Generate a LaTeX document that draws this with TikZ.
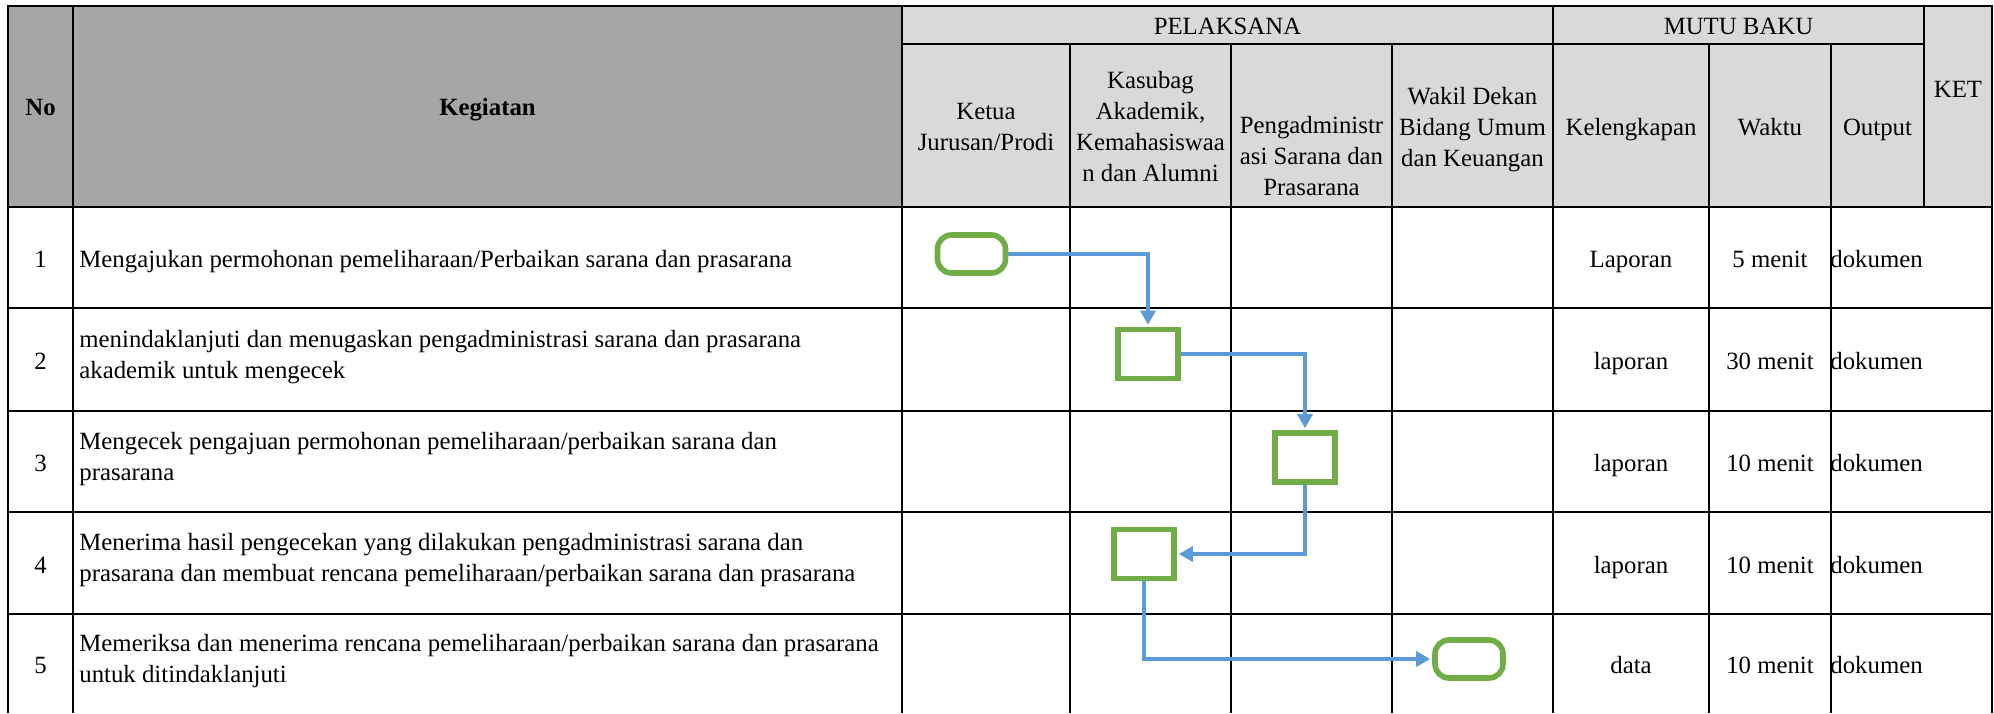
\documentclass[tikz,border=0pt]{standalone}
\usepackage{fontspec}
\setmainfont{Liberation Serif}
\usepackage{tikz}
\usetikzlibrary{arrows.meta}
\definecolor{hdgray}{HTML}{A6A6A6}
\definecolor{hdlight}{HTML}{D9D9D9}
\definecolor{flowgreen}{HTML}{70AD47}
\definecolor{flowblue}{HTML}{5B9BD5}

\begin{document}
\begin{tikzpicture}[
    x=0.5pt, y=-0.5pt,
    font=\fontsize{12.4pt}{15.5pt}\selectfont,
    >={Triangle[length=7pt,width=7.5pt]},
    grid/.style={line width=1.15pt},
    val/.style={anchor=base, inner sep=0pt},
    head/.style={align=center, inner sep=0pt},
    act/.style={anchor=west, align=left, inner sep=0pt},
    proc/.style={draw=flowgreen, fill=white, line width=2.8pt, minimum width=30pt, minimum height=24.5pt, inner sep=0pt},
    term/.style={proc, rounded corners=7pt, minimum width=34pt, minimum height=19pt},
    flow/.style={->, draw=flowblue, line width=1.6pt, shorten >=1pt},
]
    \useasboundingbox (0,0) rectangle (1994,713);
    % header background
    \fill[hdgray] (8,6) rectangle (902,207);
    \fill[hdlight] (902,6) rectangle (1992,207);

    % header
    \node[val] (hno) at (40.5,115) {\bfseries No};
    \node[val] (hkeg) at (487.5,115) {\bfseries Kegiatan};
    \node[val] (hpel) at (1227.5,34) {PELAKSANA};
    \node[val] (hmutu) at (1738.5,34) {MUTU BAKU};
    \node[val] (hket) at (1958,97) {KET};
    \node[head] (hketua) at (986,126.5) {Ketua\\Jurusan/Prodi};
    \node[head] (hkasubag) at (1150.5,126.3) {Kasubag\\Akademik,\\Kemahasiswaa\\n dan Alumni};
    \node[head] (hadm) at (1311.5,156.3) {Pengadministr\\asi Sarana dan\\Prasarana};
    \node[head] (hwakil) at (1472.5,129.7) {Wakil Dekan\\Bidang Umum\\dan Keuangan};
    \node[val] (hkel) at (1631,135.5) {Kelengkapan};
    \node[val] (hwaktu) at (1770,135.5) {Waktu};
    \node[val] (hout) at (1877.5,135.5) {Output};

    % rows
    \node[val] (no1) at (40.5,267.5) {1};
    \node[val] (no2) at (40.5,369.5) {2};
    \node[val] (no3) at (40.5,471.5) {3};
    \node[val] (no4) at (40.5,573) {4};
    \node[val] (no5) at (40.5,673.5) {5};
    \node[act] (keg1) at (79,261.7) {Mengajukan permohonan pemeliharaan/Perbaikan sarana dan prasarana};
    \node[act] (keg2) at (79,356.7) {menindaklanjuti dan menugaskan pengadministrasi sarana dan prasarana\\akademik untuk mengecek};
    \node[act] (keg3) at (79,458.7) {Mengecek pengajuan permohonan pemeliharaan/perbaikan sarana dan\\prasarana};
    \node[act] (keg4) at (79,560.2) {Menerima hasil pengecekan yang dilakukan pengadministrasi sarana dan\\prasarana dan membuat rencana pemeliharaan/perbaikan sarana dan prasarana};
    \node[act] (keg5) at (79,660.7) {Memeriksa dan menerima rencana pemeliharaan/perbaikan sarana dan prasarana\\untuk ditindaklanjuti};

    \node[val] (kel1) at (1631,267.5) {Laporan};
    \node[val] (kel2) at (1631,369.5) {laporan};
    \node[val] (kel3) at (1631,471.5) {laporan};
    \node[val] (kel4) at (1631,573) {laporan};
    \node[val] (kel5) at (1631,673.5) {data};
    \node[val] (wkt1) at (1770,267.5) {5 menit};
    \node[val] (wkt2) at (1770,369.5) {30 menit};
    \node[val] (wkt3) at (1770,471.5) {10 menit};
    \node[val] (wkt4) at (1770,573) {10 menit};
    \node[val] (wkt5) at (1770,673.5) {10 menit};
    \foreach \y [count=\i] in {267.5,369.5,471.5,573,673.5}
        \node[val, anchor=base west] (out\i) at (1830,\y) {dokumen};

    % grid
    \draw[grid] (8,713) -- (8,6) -- (1992,6) -- (1992,713);
    \draw[grid] (902,44) -- (1924,44);
    \draw[grid] (1924,6) -- (1924,207);
    \foreach \y in {207,308,411,512,614}
        \draw[grid] (8,\y) -- (1992,\y);
    \foreach \x in {73,902,1553}
        \draw[grid] (\x,6) -- (\x,713);
    \foreach \x in {1070,1231,1392,1709,1831}
        \draw[grid] (\x,44) -- (\x,713);

    % flow
    \node[term] (mulai) at (971.5,254) {};
    \node[proc] (tindak) at (1148,354) {};
    \node[proc] (cek) at (1305,457.5) {};
    \node[proc] (rencana) at (1144,554) {};
    \node[term] (selesai) at (1469,659) {};
    \draw[flow] (mulai.east) -| (tindak.north);
    \draw[flow] (tindak.east) -| (cek.north);
    \draw[flow] (cek.south) |- (rencana.east);
    \draw[flow] (rencana.south) |- (selesai.west);
\end{tikzpicture}
\end{document}
